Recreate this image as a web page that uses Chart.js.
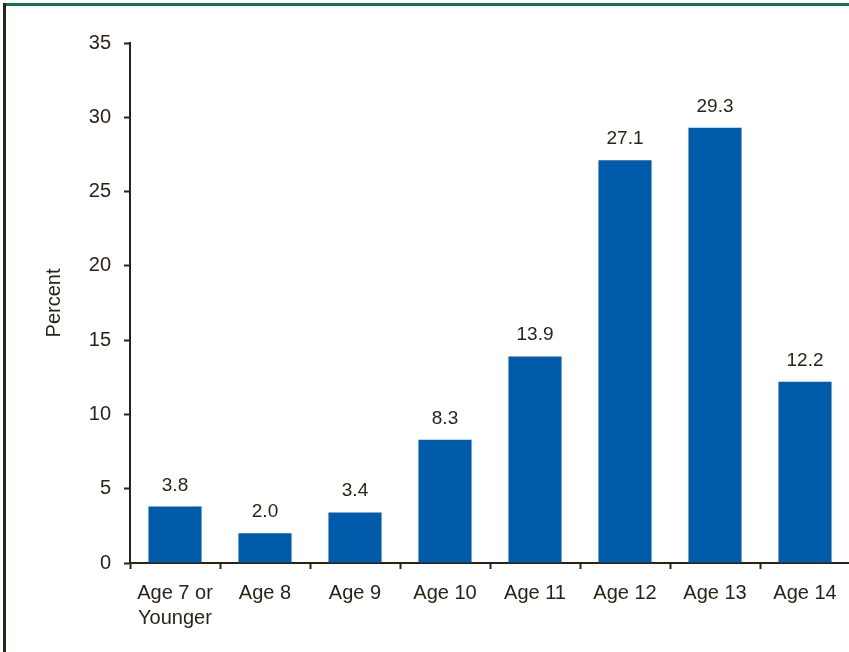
<!DOCTYPE html>
<html>
<head>
<meta charset="utf-8">
<script src="https://cdn.jsdelivr.net/npm/chart.js@4.4.0/dist/chart.umd.min.js"></script>
<style>
  html, body { margin: 0; padding: 0; background: #fff; overflow: hidden; }
  #wrap { position: relative; width: 849px; height: 652px; overflow: hidden; }
  #chart { position: absolute; left: 0; top: 0; }
  .topline { position: absolute; left: 4px; top: 3px; width: 845px; height: 3px; background: #12704a; }
  .leftline { position: absolute; left: 3px; top: 3px; width: 3px; height: 649px; background: #2b2414; }
</style>
</head>
<body>
<div id="wrap">
  <canvas id="chart" width="851" height="652"></canvas>
  <div class="topline"></div>
  <div class="leftline"></div>
</div>
<script>
"use strict";
const ages = [["Age 7 or", "Younger"], "Age 8", "Age 9", "Age 10", "Age 11", "Age 12", "Age 13", "Age 14"];
const percents = [3.8, 2.0, 3.4, 8.3, 13.9, 27.1, 29.3, 12.2];
const yTicks = [0, 5, 10, 15, 20, 25, 30, 35];

const ink = "#2b2416";
const barBlue = "#005bab";
const fontFamily = "'Liberation Sans', Arial, Helvetica, sans-serif";

// writes the value over each bar
const valueLabels = {
    id: "valueLabels",
    afterDatasetsDraw(chart) {
        const c = chart.ctx;
        const meta = chart.getDatasetMeta(0);
        c.save();
        c.font = "19px " + fontFamily;
        c.fillStyle = ink;
        c.textAlign = "center";
        c.textBaseline = "alphabetic";
        meta.data.forEach((bar, i) => {
            c.fillText(percents[i].toFixed(1), bar.x, bar.y - 16);
        });
        c.restore();
    }
};

const ctx = document.getElementById("chart").getContext("2d");
const chart = new Chart(ctx, {
    type: "bar",
    data: {
        labels: ages,
        datasets: [{
            data: percents,
            backgroundColor: barBlue,
            borderWidth: 0,
            barPercentage: 0.59,
            categoryPercentage: 1
        }]
    },
    options: {
        responsive: false,
        animation: false,
        layout: { padding: { top: 43, right: 1, left: 0, bottom: 0 } },
        plugins: {
            legend: { display: false },
            tooltip: { enabled: false }
        },
        scales: {
            x: {
                afterFit: (scale) => { scale.height = 89; },
                border: { display: true, color: ink, width: 2 },
                grid: {
                    offset: true,
                    drawOnChartArea: false,
                    drawTicks: true,
                    tickLength: 6,
                    tickWidth: 2,
                    tickColor: ink
                },
                ticks: {
                    color: ink,
                    padding: 12,
                    maxRotation: 0,
                    autoSkip: false,
                    font: { family: fontFamily, size: 20, lineHeight: 1.25 }
                }
            },
            y: {
                min: 0,
                max: 35,
                afterFit: (scale) => { scale.width = 130; },
                afterBuildTicks: (axis) => { axis.ticks = yTicks.map(v => ({ value: v })); },
                border: { display: true, color: ink, width: 2 },
                grid: {
                    drawOnChartArea: false,
                    drawTicks: true,
                    tickLength: 6,
                    tickWidth: 2,
                    tickColor: ink
                },
                ticks: {
                    color: ink,
                    padding: 13,
                    font: { family: fontFamily, size: 20 }
                },
                title: {
                    display: true,
                    text: "Percent",
                    color: ink,
                    padding: { top: 42, bottom: 0 },
                    font: { family: fontFamily, size: 20 }
                }
            }
        }
    },
    plugins: [valueLabels]
});
</script>
</body>
</html>
